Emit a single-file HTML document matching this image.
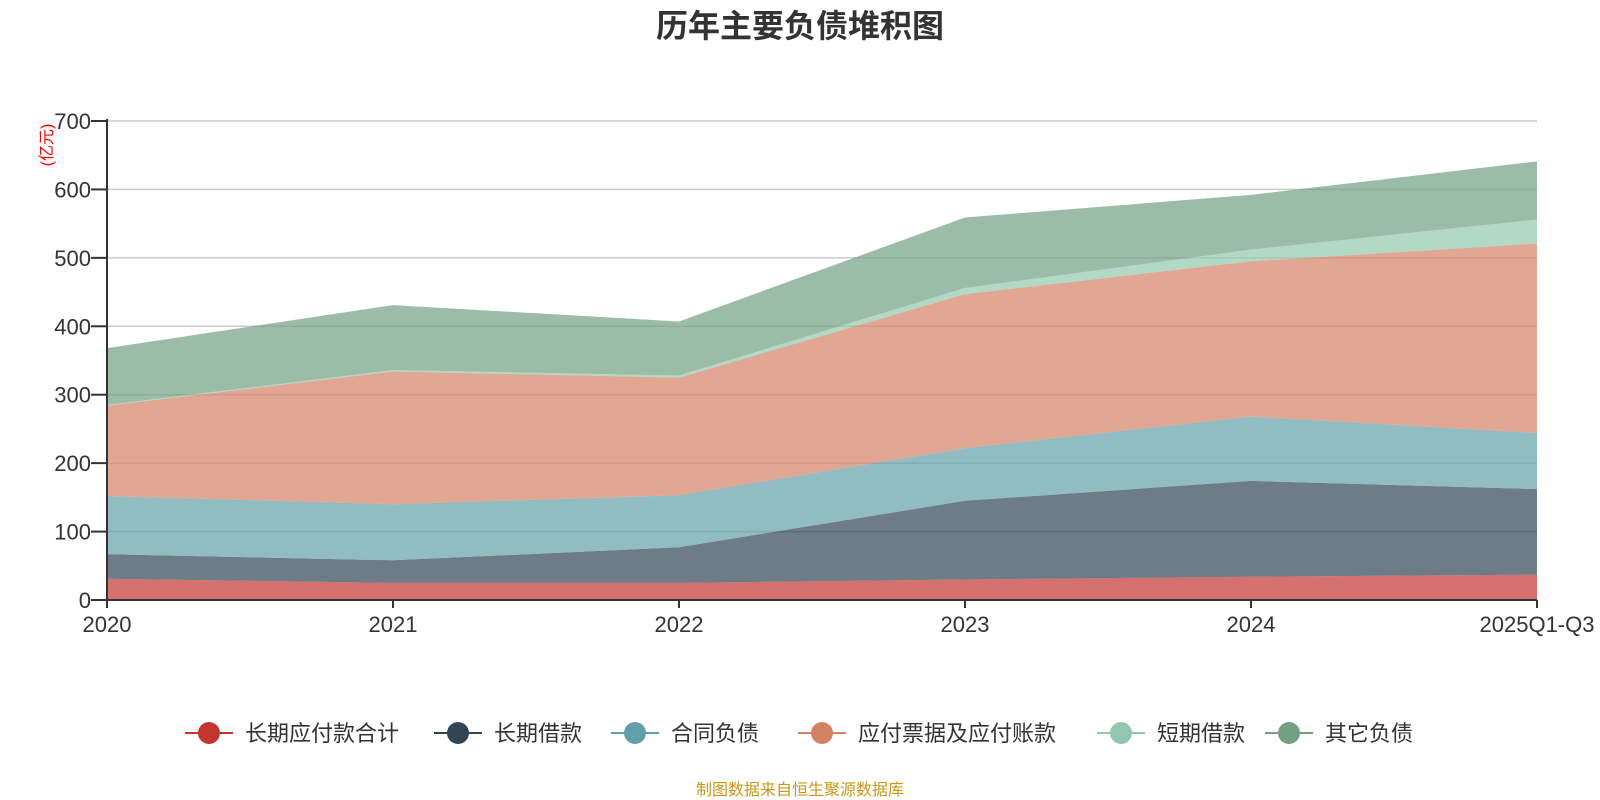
<!DOCTYPE html>
<html><head><meta charset="utf-8"><style>
html,body{margin:0;padding:0;background:#fff;}
svg{display:block;font-family:"Liberation Sans","Noto Sans CJK SC",sans-serif;}
</style></head><body>
<svg id="chart" width="1600" height="800" viewBox="0 0 1600 800">
<text x="800" y="37" text-anchor="middle" font-size="32" font-weight="bold" fill="#333">历年主要负债堆积图</text>
<text transform="translate(52,145) rotate(-90)" text-anchor="middle" font-size="16" fill="#ff0000">(亿元)</text>
<g id="grid"></g>
<g id="areas"></g>
<g id="axes"></g>
<g id="legend"></g>
<text x="800" y="795" text-anchor="middle" font-size="16" fill="#c9961a">制图数据来自恒生聚源数据库</text>
</svg>
<script>
const categories = ["2020","2021","2022","2023","2024","2025Q1-Q3"];
const seriesNames = ["长期应付款合计","长期借款","合同负债","应付票据及应付账款","短期借款","其它负债"];
const longPayable = [31,25,25,30,34,37];
const longLoan = [36,33,52,115,140,125];
const contractLiab = [85,82,76,77,94,82];
const notesPayable = [132,194,172,225,227,277];
const shortLoan = [1,2,3,9,17,35];
const otherLiab = [83,95,79,103,80,85];
const yTicks = [0,100,200,300,400,500,600,700];

const colors = ["#c23531","#2f4554","#61a0a8","#d48265","#91c7ae","#749f83"];
const series = [longPayable,longLoan,contractLiab,notesPayable,shortLoan,otherLiab];
const X0=107,X1=1537,Y0=600,Y1=121,YMAX=700;
const NS="http://www.w3.org/2000/svg";
function xs(i){return X0+(X1-X0)*i/(categories.length-1);}
function ys(v){return Y0-(Y0-Y1)*v/YMAX;}
function mk(tag,attrs,parent){const e=document.createElementNS(NS,tag);for(const k in attrs)e.setAttribute(k,attrs[k]);parent.appendChild(e);return e;}
const grid=document.getElementById('grid'),areas=document.getElementById('areas'),axes=document.getElementById('axes'),legend=document.getElementById('legend');
yTicks.forEach(t=>{
  if(t>0){const l=mk('line',{x1:X0,x2:X1,y1:ys(t),y2:ys(t),stroke:'#ccc','stroke-width':1.5},grid);
  
  }
  const tk=mk('line',{x1:X0-16,x2:X0,y1:ys(t),y2:ys(t),stroke:'#333','stroke-width':2},axes);
  
  
  const tx=mk('text',{x:X0-16,y:ys(t)+8,'text-anchor':'end','font-size':22,fill:'#333'},axes);
  tx.textContent=t;
  
  
});
let base=categories.map(()=>0);
series.forEach((s,si)=>{
  const top=s.map((v,i)=>base[i]+v);
  let d='M'+categories.map((c,i)=>xs(i)+','+ys(top[i])).join(' L');
  for(let i=categories.length-1;i>=0;i--)d+=' L'+xs(i)+','+ys(base[i]);
  d+=' Z';
  const p=mk('path',{d:d,fill:colors[si],'fill-opacity':0.7,stroke:'none'},areas);
  
  
  base=top;
});
const ax=mk('line',{x1:X0,x2:X0,y1:Y1-2,y2:Y0,stroke:'#333','stroke-width':2},axes);


const xa=mk('line',{x1:X0,x2:X1,y1:Y0,y2:Y0,stroke:'#333','stroke-width':2},axes);


categories.forEach((c,i)=>{
  const tk=mk('line',{x1:xs(i),x2:xs(i),y1:Y0,y2:Y0+8,stroke:'#333','stroke-width':2},axes);
  
  
  const tx=mk('text',{x:xs(i),y:632,'text-anchor':'middle','font-size':22,fill:'#333'},axes);
  tx.textContent=c;
  
  
});
const legX=[209,458,635,822,1121,1289];
seriesNames.forEach((n,i)=>{
  const g=mk('g',{},legend);
  
  
  mk('line',{x1:legX[i]-24,x2:legX[i]+24,y1:733,y2:733,stroke:colors[i],'stroke-width':2},g);
  mk('circle',{cx:legX[i],cy:733,r:11,fill:colors[i]},g);
  const t=mk('text',{x:legX[i]+36,y:741,'font-size':22,fill:'#333'},g);
  t.textContent=n;
});
</script>
</body></html>
